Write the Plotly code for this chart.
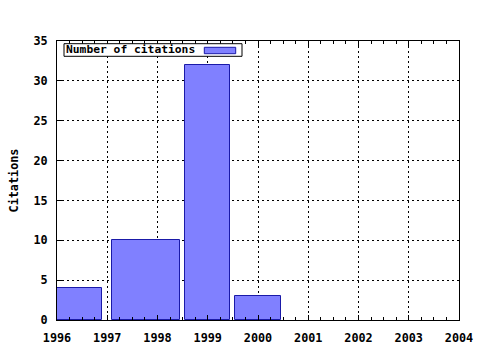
import plotly.graph_objects as go

years = [1996, 1998, 1999, 2000]
citations = [4, 10, 32, 3]
series_name = "Number of citations"
x_ticks = list(range(1996, 2005))
y_ticks = list(range(0, 40, 5))

# gnuplot-style relative box width (0.9): each box extends 0.45 of the gap to its neighbours
rel = 0.9
lefts, widths = [], []
for i, x in enumerate(years):
    prev_gap = (x - years[i - 1]) if i > 0 else (years[i + 1] - x)
    next_gap = (years[i + 1] - x) if i < len(years) - 1 else (x - years[i - 1])
    lo = rel * prev_gap / 2
    hi = rel * next_gap / 2
    lefts.append(-lo)
    widths.append(lo + hi)

FONT = "DejaVu Sans Mono"
FILL = "#8080ff"
EDGE = "#1a1aa8"

fig = go.Figure()
fig.add_trace(go.Bar(
    x=years, y=citations, offset=lefts, width=widths,
    marker=dict(color=FILL, line=dict(color=EDGE, width=1)),
    name=series_name, showlegend=False,
))

L, R, T, B = 57, 459, 41, 320
W, H = 480, 350

def px(xp):
    return (xp - L) / (R - L)

def py(yp):
    return (B - yp) / (B - T)

fig.update_layout(
    width=W, height=H,
    margin=dict(l=L, r=W - R, t=T, b=H - B, pad=0, autoexpand=False),
    paper_bgcolor="white", plot_bgcolor="white",
    font=dict(family=FONT, size=11.8, color="black"),
    bargap=0,
    xaxis=dict(
        range=[1996, 2004], tickvals=x_ticks, ticktext=[str(v) for v in x_ticks],
        ticks="inside", ticklen=5, tickcolor="black",
        showline=True, linecolor="black", linewidth=1, mirror="allticks",
        showgrid=True, gridcolor="black", griddash="2px,3px", gridwidth=1,
        zeroline=False, automargin=False,
        tickfont=dict(family=FONT, size=11.8, color="black", weight="bold"),
        minor=dict(dtick=0.25, tick0=1996, ticks="inside", ticklen=3, tickcolor="black", showgrid=False),
        ticklabelstandoff=7,
    ),
    yaxis=dict(
        range=[0, 35], tickvals=y_ticks,
        ticks="inside", ticklen=5, tickcolor="black",
        showline=True, linecolor="black", linewidth=1, mirror=True,
        showgrid=True, gridcolor="black", griddash="2px,3px", gridwidth=1,
        zeroline=False, automargin=False,
        tickfont=dict(family=FONT, size=11.8, color="black", weight="bold"),
        title=dict(text="Citations", font=dict(family=FONT, size=11.8, color="black", weight="bold"), standoff=12),
        ticklabelstandoff=6,
    ),
    shapes=[
        dict(type="rect", xref="paper", yref="paper",
             x0=px(64), x1=px(242), y0=py(56.3), y1=py(43.7),
             line=dict(color="black", width=1), fillcolor="white", layer="above"),
        dict(type="rect", xref="paper", yref="paper",
             x0=px(204.3), x1=px(235.7), y0=py(53.7), y1=py(47.3),
             line=dict(color=EDGE, width=1), fillcolor=FILL, layer="above"),
    ],
    annotations=[
        dict(text=series_name, xref="paper", yref="paper",
             x=px(64), y=py(50), xanchor="left", yanchor="middle", showarrow=False,
             font=dict(family=FONT, size=11.3, color="black", weight="bold")),
    ],
)

fig.write_html("out.html")
